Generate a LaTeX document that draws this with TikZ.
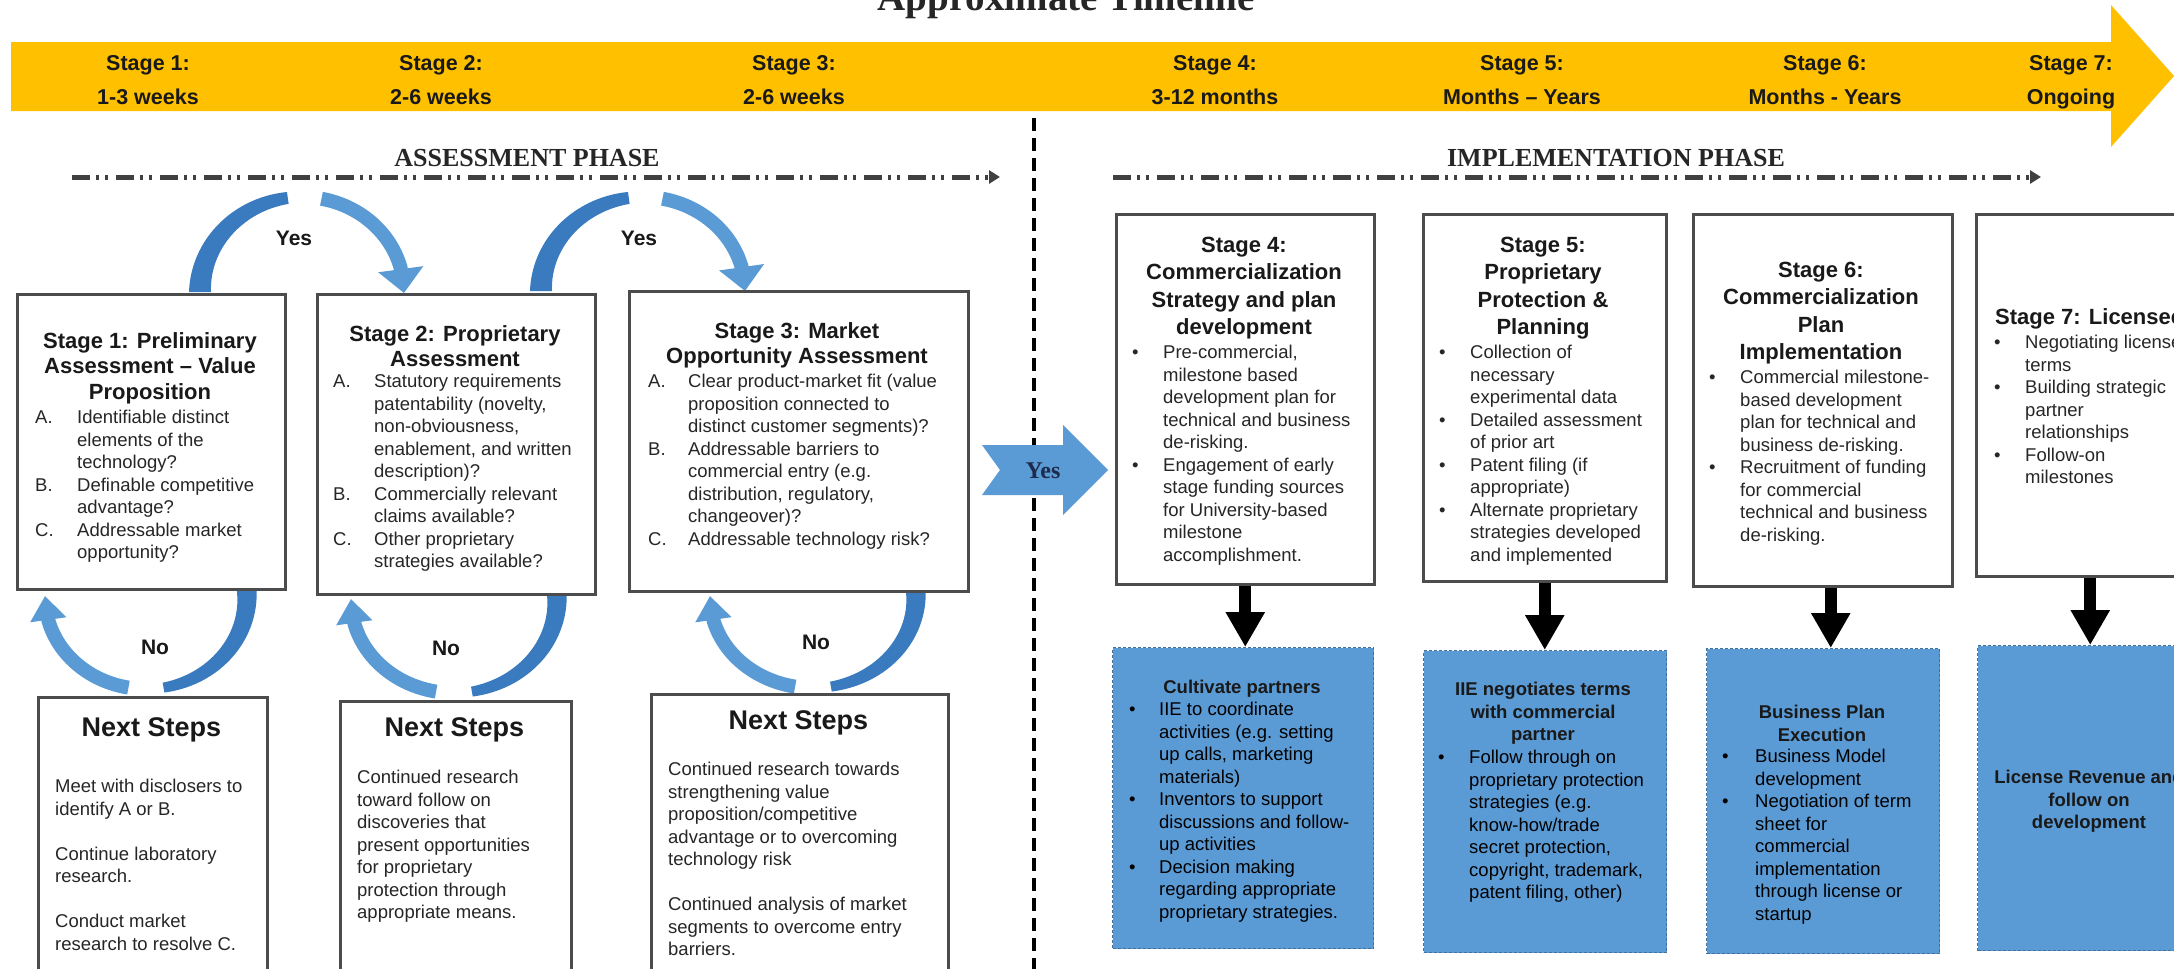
\documentclass[tikz,border=0pt]{standalone}
\usepackage{fontspec}
\setmainfont{Liberation Sans}
\newfontfamily\headserif{Liberation Serif}
\usepackage{array}
\usetikzlibrary{arrows.meta}

\definecolor{bandgold}{HTML}{FFC000}
\definecolor{arclight}{HTML}{5B9BD5}
\definecolor{arcdark}{HTML}{3A7BC0}
\definecolor{bluefill}{HTML}{5B9BD5}
\definecolor{blueedge}{HTML}{41719C}
\definecolor{yesnavy}{HTML}{1C2B4A}

% centred block of lines / hanging list with a label column
\newcommand\boxhead[1]{\begin{tabular}{@{}c@{}}#1\end{tabular}}
\newcommand\boxlist[2]{\begin{tabular}{@{}p{#1}@{}l@{}}#2\end{tabular}}
\newcommand\plainlines[1]{\begin{tabular}{@{}l@{}}#1\end{tabular}}

% tapered band along an elliptic arc:
% cx cy rx ry start end width-at-start width-at-end style
\newcommand\armband[9]{%
  \fill[#9] plot[domain=#5:#6, samples=30]
    ({#1+(#3+0.5*(#7+(#8-#7)*(\x-(#5))/((#6)-(#5))))*cos(\x)},
     {#2+(#4+0.5*(#7+(#8-#7)*(\x-(#5))/((#6)-(#5))))*sin(\x)})
    -- plot[domain=#6:#5, samples=30]
    ({#1+(#3-0.5*(#7+(#8-#7)*(\x-(#5))/((#6)-(#5))))*cos(\x)},
     {#2+(#4-0.5*(#7+(#8-#7)*(\x-(#5))/((#6)-(#5))))*sin(\x)})
    -- cycle;}

\begin{document}
\begin{tikzpicture}[x=1pt,y=-1pt,
  stagebox/.style={draw=black!70, line width=2.5pt, fill=white, inner sep=0pt, anchor=north west},
  planbox/.style={fill=bluefill, draw=blueedge, line width=1.2pt, dash pattern=on 3pt off 2pt, inner sep=0pt, anchor=north west},
  bandtext/.style={font=\fontsize{21.5}{34}\selectfont\bfseries, inner sep=0pt, anchor=north, text=black!90},
  phasetext/.style={font=\headserif\bfseries\fontsize{26}{30}\selectfont, inner sep=0pt, anchor=base, text=black!85},
  titletext/.style={font=\headserif\bfseries\fontsize{39}{44}\selectfont, inner sep=0pt, anchor=base, text=black!85},
  headA/.style={font=\fontsize{22}{25.5}\selectfont\bfseries, inner sep=0pt, anchor=north, text=black!90},
  headB/.style={font=\fontsize{22}{27.5}\selectfont\bfseries, inner sep=0pt, anchor=north, text=black!90},
  nexthead/.style={font=\fontsize{27}{32}\selectfont\bfseries, inner sep=0pt, anchor=north, text=black!90},
  bodytext/.style={font=\fontsize{18.5}{22.5}\selectfont, inner sep=0pt, anchor=north west, text=black!85},
  planhead/.style={font=\fontsize{18.5}{22.5}\selectfont\bfseries, inner sep=0pt, anchor=north, text=black!90},
  yesno/.style={font=\fontsize{21}{25}\selectfont\bfseries, inner sep=0pt, text=black!90},
  phaseline/.style={draw=black!75, line width=5pt, dash pattern=on 18pt off 6pt on 3pt off 6pt on 3pt off 8pt, -{Triangle[width=13pt,length=11pt]}},
  divider/.style={draw=black, line width=4.5pt, dash pattern=on 13pt off 7pt},
  armhead/.style={draw=arclight, line width=14pt},
  downarrow/.style={draw=black, line width=12pt, -{Triangle[width=37pt,length=35pt]}}
]
\useasboundingbox (0,0) rectangle (2174,969);
\fill[white] (0,0) rectangle (2174,969);

% ---------- timeline header ----------
\node[titletext] (title) at (1066,10) {Approximate Timeline};
\fill[bandgold] (11,42) -- (2111,42) -- (2111,5) -- (2174,76) -- (2111,147) -- (2111,111) -- (11,111) -- cycle;

\node[bandtext] (t1) at (148,46)  {\boxhead{Stage 1:\\1-3 weeks}};
\node[bandtext] (t2) at (441,46)  {\boxhead{Stage 2:\\2-6 weeks}};
\node[bandtext] (t3) at (794,46)  {\boxhead{Stage 3:\\2-6 weeks}};
\node[bandtext] (t4) at (1215,46) {\boxhead{Stage 4:\\3-12 months}};
\node[bandtext] (t5) at (1522,46) {\boxhead{Stage 5:\\Months – Years}};
\node[bandtext] (t6) at (1825,46) {\boxhead{Stage 6:\\Months - Years}};
\node[bandtext] (t7) at (2071,46) {\boxhead{Stage 7:\\Ongoing}};

% ---------- phase headings ----------
\node[phasetext] (ah) at (527,166)  {ASSESSMENT PHASE};
\node[phasetext] (ih) at (1616,166) {IMPLEMENTATION PHASE};
\coordinate (a0) at (72,177);   \coordinate (a1) at (1000,177);
\coordinate (i0) at (1113,177); \coordinate (i1) at (2041,177);
\draw[phaseline] (a0) -- (a1);
\draw[phaseline] (i0) -- (i1);

\coordinate (d0) at (1034,118); \coordinate (d1) at (1034,975);
\draw[divider] (d0) -- (d1);

% ---------- curved "Yes" arrows between assessment stages ----------
\armband{302}{292}{102}{95}{180}{262}{22}{12}{arcdark}
\draw[armhead, -{Triangle[width=44pt,length=24pt]}] plot[domain=281:345, samples=25] ({302+102*cos(\x)},{292+95*sin(\x)}) -- (404,293);
\armband{643}{291}{102}{94}{180}{262}{22}{12}{arcdark}
\draw[armhead, -{Triangle[width=44pt,length=24pt]}] plot[domain=281:345, samples=25] ({643+102*cos(\x)},{291+94*sin(\x)}) -- (745,291);
\node[yesno] (y1) at (294,238) {Yes};
\node[yesno] (y2) at (639,238) {Yes};

% ---------- curved "No" arrows back from the next-steps boxes ----------
\armband{146}{597}{101}{92}{-6}{80}{20}{10}{arcdark}
\draw[armhead, -{Triangle[width=35pt,length=24pt]}] plot[domain=100:165, samples=25] ({146+101*cos(\x)},{597+92*sin(\x)}) -- (45,596);
\armband{454}{600}{103}{93}{-6}{80}{20}{10}{arcdark}
\draw[armhead, -{Triangle[width=35pt,length=24pt]}] plot[domain=100:165, samples=25] ({454+103*cos(\x)},{600+93*sin(\x)}) -- (351,599);
\armband{813}{597}{103}{91}{-6}{80}{20}{10}{arcdark}
\draw[armhead, -{Triangle[width=35pt,length=24pt]}] plot[domain=100:165, samples=25] ({813+103*cos(\x)},{597+91*sin(\x)}) -- (710,596);
\node[yesno] (n1l) at (155,647) {No};
\node[yesno] (n2l) at (446,648) {No};
\node[yesno] (n3l) at (816,642) {No};

% ---------- assessment stage boxes ----------
\node[stagebox, minimum width=268pt, minimum height=295pt] (s1) at (16,293) {};
\node[stagebox, minimum width=278pt, minimum height=300pt] (s2) at (316,293) {};
\node[stagebox, minimum width=339pt, minimum height=300pt] (s3) at (628,290) {};

\node[headA] (s1h) at (150,330) {\boxhead{Stage 1: Preliminary\\Assessment – Value\\Proposition}};
\node[bodytext] (s1b) at (35,408) {\boxlist{42pt}{A. & Identifiable distinct\\ & elements of the\\ & technology?\\ B. & Definable competitive\\ & advantage?\\ C. & Addressable market\\ & opportunity?}};

\node[headA] (s2h) at (455,323) {\boxhead{Stage 2: Proprietary\\Assessment}};
\node[bodytext] (s2b) at (333,372) {\boxlist{41pt}{A. & Statutory requirements\\ & patentability (novelty,\\ & non-obviousness,\\ & enablement, and written\\ & description)?\\ B. & Commercially relevant\\ & claims available?\\ C. & Other proprietary\\ & strategies available?}};

\node[headA] (s3h) at (797,320) {\boxhead{Stage 3: Market\\Opportunity Assessment}};
\node[bodytext] (s3b) at (648,372) {\boxlist{40pt}{A. & Clear product-market fit (value\\ & proposition connected to\\ & distinct customer segments)?\\ B. & Addressable barriers to\\ & commercial entry (e.g.\\ & distribution, regulatory,\\ & changeover)?\\ C. & Addressable technology risk?}};

% ---------- next-steps boxes ----------
\node[stagebox, minimum width=229pt, minimum height=290pt] (n1) at (37,696) {};
\node[stagebox, minimum width=231pt, minimum height=290pt] (n2) at (339,700) {};
\node[stagebox, minimum width=297pt, minimum height=295pt] (n3) at (650,693) {};

\node[nexthead] (n1h) at (151.5,714) {\boxhead{Next Steps}};
\node[bodytext] (n1b) at (55,777) {\plainlines{Meet with disclosers to\\identify A or B.\\ \\Continue laboratory\\research.\\ \\Conduct market\\research to resolve C.}};
\node[nexthead] (n2h) at (454.5,714) {\boxhead{Next Steps}};
\node[bodytext] (n2b) at (357,768) {\plainlines{Continued research\\toward follow on\\discoveries that\\present opportunities\\for proprietary\\protection through\\appropriate means.}};
\node[nexthead] (n3h) at (798.5,707) {\boxhead{Next Steps}};
\node[bodytext] (n3b) at (668,760) {\plainlines{Continued research towards\\strengthening value\\proposition/competitive\\advantage or to overcoming\\technology risk\\ \\Continued analysis of market\\segments to overcome entry\\barriers.}};

% ---------- hand-over arrow into implementation ----------
\fill[bluefill] (982,445) -- (1063,445) -- (1063,425) -- (1108,470) -- (1063,515) -- (1063,495) -- (982,495) -- (1000,470) -- cycle;
\node[font=\headserif\bfseries\fontsize{24}{28}\selectfont, text=yesnavy, inner sep=0pt, anchor=base] (go) at (1043,478) {Yes};

% ---------- implementation stage boxes ----------
\node[stagebox, minimum width=258pt, minimum height=370pt] (s4) at (1115,213) {};
\node[stagebox, minimum width=243pt, minimum height=367pt] (s5) at (1422,213) {};
\node[stagebox, minimum width=259pt, minimum height=372pt] (s6) at (1692,213) {};
\node[stagebox, minimum width=228pt, minimum height=362pt] (s7) at (1975,213) {};

\node[headB] (s4h) at (1244,233) {\boxhead{Stage 4:\\Commercialization\\Strategy and plan\\development}};
\node[bodytext] (s4b) at (1132,343) {\boxlist{31pt}{\textbullet & Pre-commercial,\\ & milestone based\\ & development plan for\\ & technical and business\\ & de-risking.\\ \textbullet & Engagement of early\\ & stage funding sources\\ & for University-based\\ & milestone\\ & accomplishment.}};

\node[headB] (s5h) at (1543,233) {\boxhead{Stage 5:\\Proprietary\\Protection \&\\Planning}};
\node[bodytext] (s5b) at (1439,343) {\boxlist{31pt}{\textbullet & Collection of\\ & necessary\\ & experimental data\\ \textbullet & Detailed assessment\\ & of prior art\\ \textbullet & Patent filing (if\\ & appropriate)\\ \textbullet & Alternate proprietary\\ & strategies developed\\ & and implemented}};

\node[headB] (s6h) at (1821,258) {\boxhead{Stage 6:\\Commercialization\\Plan\\Implementation}};
\node[bodytext] (s6b) at (1709,368) {\boxlist{31pt}{\textbullet & Commercial milestone-\\ & based development\\ & plan for technical and\\ & business de-risking.\\ \textbullet & Recruitment of funding\\ & for commercial\\ & technical and business\\ & de-risking.}};

\node[headB, anchor=north west] (s7h) at (1995,305) {\boxhead{Stage 7: Licensee}};
\node[bodytext] (s7b) at (1994,333) {\boxlist{31pt}{\textbullet & Negotiating license\\ & terms\\ \textbullet & Building strategic\\ & partner\\ & relationships\\ \textbullet & Follow-on\\ & milestones}};

% ---------- outcome boxes ----------
\node[planbox, minimum width=261pt, minimum height=301pt] (p4) at (1112,647) {};
\node[planbox, minimum width=243pt, minimum height=302pt] (p5) at (1423,650) {};
\node[planbox, minimum width=233pt, minimum height=305pt] (p6) at (1706,648) {};
\node[planbox, minimum width=224pt, minimum height=305pt] (p7) at (1977,645) {};

\draw[downarrow] (s4.south) -- (s4.south |- p4.north);
\draw[downarrow] (s5.south) -- (s5.south |- p5.north);
\draw[downarrow] ([xshift=8pt]s6.south) -- ([xshift=8pt]s6.south |- p6.north);
\draw[downarrow] (s7.south) -- (s7.south |- p7.north);

\node[planhead] (p4h) at (1242,678) {\boxhead{Cultivate partners}};
\node[bodytext, text=black] (p4b) at (1129,700) {\boxlist{30pt}{\textbullet & IIE to coordinate\\ & activities (e.g. setting\\ & up calls, marketing\\ & materials)\\ \textbullet & Inventors to support\\ & discussions and follow-\\ & up activities\\ \textbullet & Decision making\\ & regarding appropriate\\ & proprietary strategies.}};

\node[planhead] (p5h) at (1543,680) {\boxhead{IIE negotiates terms\\with commercial\\partner}};
\node[bodytext, text=black] (p5b) at (1438,748) {\boxlist{31pt}{\textbullet & Follow through on\\ & proprietary protection\\ & strategies (e.g.\\ & know-how/trade\\ & secret protection,\\ & copyright, trademark,\\ & patent filing, other)}};

\node[planhead] (p6h) at (1822,703) {\boxhead{Business Plan\\Execution}};
\node[bodytext, text=black] (p6b) at (1722,747) {\boxlist{33pt}{\textbullet & Business Model\\ & development\\ \textbullet & Negotiation of term\\ & sheet for\\ & commercial\\ & implementation\\ & through license or\\ & startup}};

\node[planhead] (p7h) at (2089,768) {\boxhead{License Revenue and\\follow on\\development}};
\end{tikzpicture}
\end{document}
